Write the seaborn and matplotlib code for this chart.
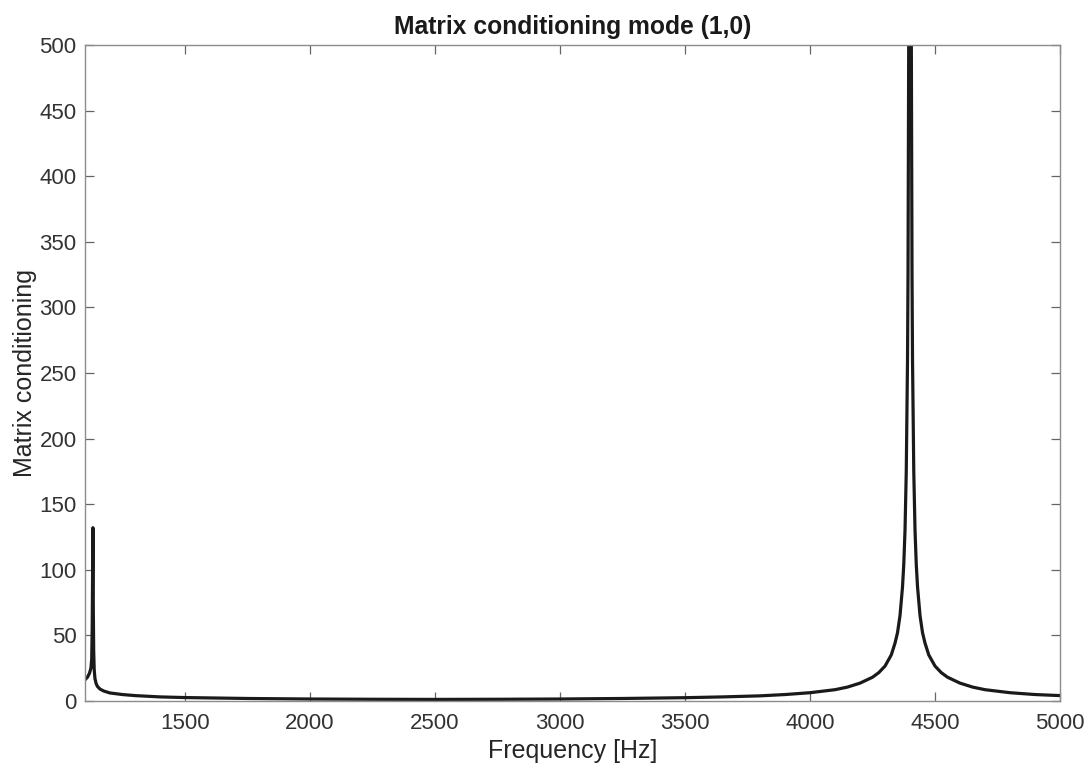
import numpy as np
import pandas as pd
import matplotlib
matplotlib.use("Agg")
import matplotlib.pyplot as plt
import seaborn as sns

# values
freq_hz = [1100, 1110, 1118, 1124, 1127, 1129, 1130.5, 1132, 1133.5, 1135, 1137, 1140,
           1145, 1150, 1160, 1175, 1200, 1250, 1300, 1400, 1500, 1750, 2000, 2250,
           2500, 2750, 3000, 3250, 3500, 3650, 3800, 3900, 4000, 4100, 4150, 4200,
           4250, 4275, 4300, 4325, 4340, 4350, 4360, 4370, 4375, 4380, 4385, 4390,
           4392, 4395, 4400,
           4405, 4408, 4410, 4415, 4420, 4425, 4430, 4440, 4450, 4460, 4475, 4500,
           4525, 4550, 4600, 4650, 4700, 4800, 4900, 5000]
conditioning = [16, 18, 21, 25, 32, 55, 95, 132, 70, 38, 24, 17,
                13, 11, 9, 7.5, 6, 4.8, 4, 3, 2.5, 1.8, 1.4, 1.2,
                1.1, 1.2, 1.4, 1.8, 2.4, 3, 3.8, 4.8, 6.2, 8.5, 10.5, 13.5,
                18, 21.5, 26.5, 35, 44, 52, 65, 87, 104, 130, 175, 260,
                325, 520, 900,
                520, 325, 260, 175, 130, 104, 87, 65, 52, 44, 35, 26.5,
                21.5, 18, 13.5, 10.5, 8.5, 6.2, 4.8, 4]

x_ticks = [1500, 2000, 2500, 3000, 3500, 4000, 4500, 5000]
y_ticks = list(range(0, 501, 50))

df = pd.DataFrame({"Frequency": freq_hz, "Cond": conditioning})

sns.set_theme(style="white")
plt.rcParams["font.family"] = ["Liberation Sans", "DejaVu Sans"]

fig = plt.figure(figsize=(10.89, 7.71), dpi=100)
ax = fig.add_axes([0.078, 0.091, 0.8954, 0.8506])

sns.lineplot(data=df, x="Frequency", y="Cond", ax=ax, color="#1a1a1a", linewidth=2.3)

ax.set_xlim(1100, 5000)
ax.set_ylim(0, 500)
ax.set_xticks(x_ticks)
ax.set_yticks(y_ticks)
ax.set_xlabel("Frequency [Hz]", fontsize=18, color="#262626", labelpad=3)
ax.set_ylabel("Matrix conditioning", fontsize=18, color="#262626", labelpad=2)
ax.set_title("Matrix conditioning mode (1,0)", fontsize=17.7, fontweight="bold", color="#1a1a1a", pad=8)

for s in ax.spines.values():
    s.set_color("#8c8c8c")
    s.set_linewidth(1.0)
ax.tick_params(direction="in", length=6.5, width=0.9, color="#666666",
               labelsize=16, labelcolor="#333333", top=True, right=True,
               bottom=True, left=True)
ax.tick_params(axis="x", pad=9)
ax.tick_params(axis="y", pad=6)

fig.savefig("out.png", dpi=100)
